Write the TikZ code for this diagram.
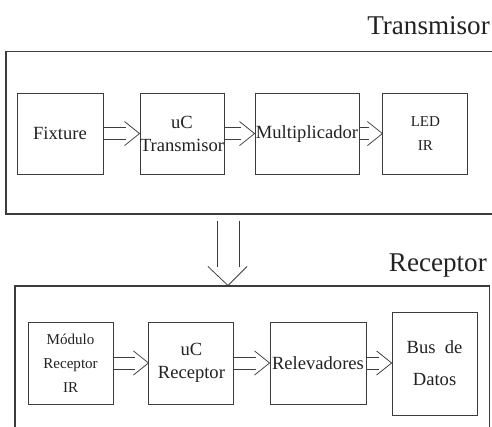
\documentclass[tikz,border=0pt]{standalone}
\usepackage{fontspec}
\setmainfont{Liberation Serif}
\usepackage{tikz}
\usetikzlibrary{calc}
\definecolor{trazo}{HTML}{3C3C3C}
\definecolor{tinta}{HTML}{222222}
\tikzset{
  caja/.style={draw=trazo, line width=.9pt, inner sep=0pt, align=center, text=tinta, font=\fontsize{18.5}{23}\selectfont},
  cajach/.style={caja, font=\fontsize{15}{24}\selectfont},
  marco/.style={draw=trazo, line width=1pt, inner sep=0pt},
  tit/.style={font=\fontsize{27}{30}\selectfont, text=tinta, inner sep=0pt},
  linea/.style={draw=trazo, line width=.75pt},
}

\begin{document}
\begin{tikzpicture}
  \useasboundingbox (0,0) rectangle (17.22,14.945);
  \clip (0,0) rectangle (17.22,14.945);

  % marcos de transmisor y receptor
  \node[marco, minimum width=17.29cm, minimum height=5.67cm] (tx) at (8.855,10.29) {};
  \node[marco, minimum width=16.59cm, minimum height=5.6cm] (rx) at (8.82,2.135) {};
  \node[tit, anchor=base east] (ttx) at (17.15,13.72) {Transmisor};
  \node[tit, anchor=base east] (trx) at (17.045,5.43) {Receptor};

  % bloques del transmisor
  \node[caja, minimum width=3.01cm, minimum height=2.835cm] (fix) at (2.10,10.27) {Fixture};
  \node[caja, minimum width=2.94cm, minimum height=2.835cm] (uct) at (6.37,10.27) {uC\\Transmisor};
  \node[caja, minimum width=3.64cm, minimum height=2.835cm] (mult) at (10.745,10.27) {Multiplicador};
  \node[cajach, minimum width=2.975cm, minimum height=2.835cm, font=\fontsize{15}{23}\selectfont] (led) at (14.89,10.27) {LED\\IR};

  % bloques del receptor
  \node[cajach, minimum width=2.975cm, minimum height=2.87cm] (mod) at (2.47,2.24) {Módulo\\Receptor\\IR};
  \node[caja, minimum width=2.975cm, minimum height=2.87cm] (ucr) at (6.70,2.24) {uC\\Receptor};
  \node[caja, minimum width=3.36cm, minimum height=2.87cm] (rel) at (11.13,2.24) {Relevadores};
  \node[caja, minimum width=2.975cm, minimum height=3.605cm] (bus) at (15.21,2.22) {Bus\ \ de\\[9pt]Datos};

  % flechas dobles entre bloques
  \foreach \a/\b in {fix/uct, uct/mult, mult/led, mod/ucr, ucr/rel, rel/bus}{
    \coordinate (t) at (\b.west |- \a.east);
    \draw[linea] ([yshift=6pt]\a.east) -- ([xshift=-13pt,yshift=6pt]t);
    \draw[linea] ([yshift=-6pt]\a.east) -- ([xshift=-13pt,yshift=-6pt]t);
    \draw[linea] ([xshift=-15pt,yshift=12pt]t) -- (t) -- ([xshift=-15pt,yshift=-12pt]t);
  }

  % flecha de transmisor a receptor
  \coordinate (eje) at (7.98,0);
  \coordinate (va) at (tx.south -| eje);
  \coordinate (vb) at (rx.north -| eje);
  \draw[linea] ([xshift=-11pt,yshift=-6pt]va) -- ([xshift=-11pt,yshift=18pt]vb);
  \draw[linea] ([xshift=11pt,yshift=-6pt]va) -- ([xshift=11pt,yshift=18pt]vb);
  \draw[linea] ([xshift=-20pt,yshift=19pt]vb) -- (vb) -- ([xshift=19pt,yshift=19pt]vb);
\end{tikzpicture}
\end{document}
